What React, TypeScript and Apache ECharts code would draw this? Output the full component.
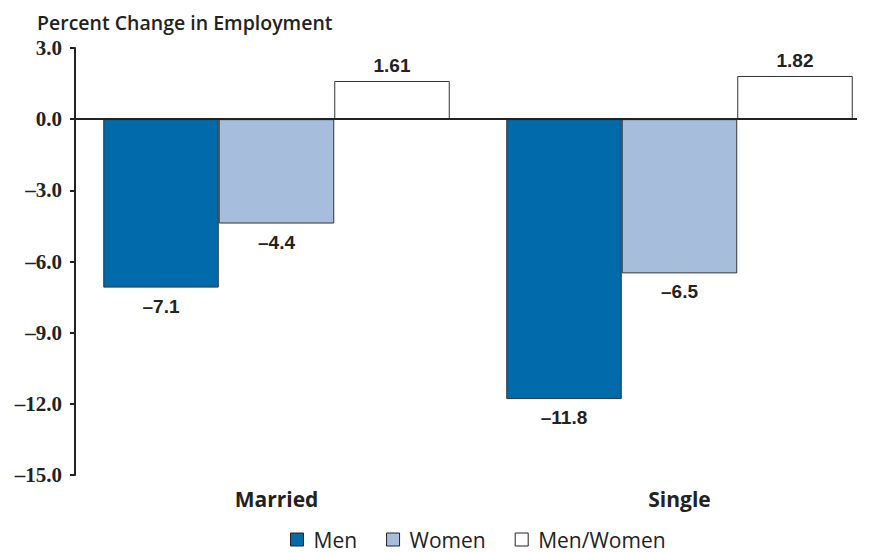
import React, { useEffect, useRef } from "react";
import * as echarts from "echarts";

const categories = ["Married", "Single"];
const seriesNames = ["Men", "Women", "Men/Women"];
const menValues = [-7.1, -11.8];
const womenValues = [-4.4, -6.5];
const ratioValues = [1.61, 1.82];
const yTicks = { min: -15, max: 3, interval: 3 };

const colors = ["#006aab", "#a6bddc", "#ffffff"];

const fmtTick = (v: number) => (v < 0 ? "\u2013" + Math.abs(v).toFixed(1) : v.toFixed(1));
const fmtVal = (v: number) => (v < 0 ? "\u2013" + Math.abs(v) : String(v));

export default function App() {
  const ref = useRef<HTMLDivElement>(null);
  useEffect(() => {
    if (!ref.current) return;
    const chart = echarts.init(ref.current, undefined, { renderer: "svg" });
    const allValues = [menValues, womenValues, ratioValues];
    const series: any[] = allValues.map((vals, i) => ({
      name: seriesNames[i],
      type: "bar",
      barWidth: 115.5,
      barGap: "0%",
      itemStyle: { color: colors[i], borderColor: "#333", borderWidth: 1 },
      data: vals.map((v) => ({
        value: v,
        label: {
          show: true,
          position: v < 0 ? "bottom" : "top",
          distance: v < 0 ? 9 : 6,
          formatter: () => fmtVal(v),
          color: "#222",
          fontFamily: "Liberation Sans",
          fontWeight: "bold",
          fontSize: 19,
        },
      })),
    }));
    series[0].markLine = {
      silent: true,
      symbol: "none",
      z: 10,
      label: { show: false },
      lineStyle: { color: "#222", width: 2, type: "solid" },
      data: [
        [
          { xAxis: categories[0], yAxis: 0, x: 75 },
          { xAxis: categories[1], yAxis: 0, x: 857 },
        ],
      ],
    };
    chart.setOption({
      animation: false,
      title: {
        text: "Percent Change in Employment",
        left: 32,
        top: 7,
        textStyle: {
          fontFamily: "Open Sans",
          fontWeight: 600,
          fontSize: 19.5,
          color: "#222",
        },
      },
      legend: {
        data: seriesNames,
        top: 524,
        left: 285,
        icon: "rect",
        itemWidth: 13,
        itemHeight: 13,
        itemGap: 29,
        itemStyle: { borderColor: "#222", borderWidth: 1 },
        textStyle: {
          fontFamily: "Open Sans",
          fontSize: 21,
          color: "#222",
          padding: [0, 0, 0, 5],
        },
      },
      grid: {
        left: 75,
        width: 806,
        top: 48,
        bottom: 77,
        containLabel: false,
        outerBoundsMode: "none",
      },
      xAxis: {
        type: "category",
        data: categories,
        axisLine: { show: false },
        axisTick: { show: false },
        axisLabel: {
          margin: 13,
          fontFamily: "Open Sans",
          fontWeight: "bold",
          fontSize: 21,
          color: "#222",
        },
      },
      yAxis: {
        type: "value",
        min: yTicks.min,
        max: yTicks.max,
        interval: yTicks.interval,
        axisLine: { show: true, lineStyle: { color: "#222", width: 2 } },
        axisTick: { show: true, length: 5, lineStyle: { color: "#222", width: 2 } },
        splitLine: { show: false },
        axisLabel: {
          margin: 13,
          formatter: (v: number) => fmtTick(v),
          fontFamily: "Liberation Serif",
          fontWeight: "bold",
          fontSize: 21,
          color: "#222",
        },
      },
      series,
    });
    return () => chart.dispose();
  }, []);
  return (
    <div
      ref={ref}
      style={{ position: "absolute", left: 0, top: 0, width: 871, height: 552, background: "#fff" }}
    />
  );
}
